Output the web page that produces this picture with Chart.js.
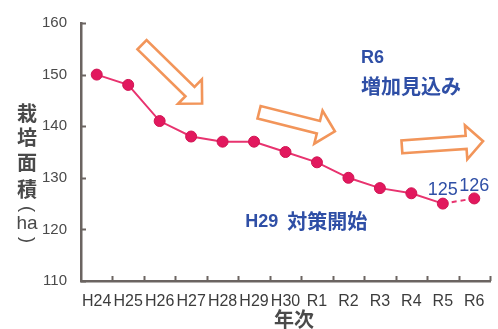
<!DOCTYPE html>
<html lang="ja">
<head>
<meta charset="utf-8">
<script src="https://cdn.jsdelivr.net/npm/chart.js@4.4.1/dist/chart.umd.min.js"></script>
<style>
  html, body { margin: 0; padding: 0; background: #ffffff; }
  #wrap { width: 498px; height: 329px; }
</style>
</head>
<body>
<div id="wrap"><canvas id="c" width="498" height="329"></canvas></div>
<script>
// 年次と栽培面積 (ha)
const years = ['H24', 'H25', 'H26', 'H27', 'H28', 'H29', 'H30', 'R1', 'R2', 'R3', 'R4', 'R5', 'R6'];
const area = [150, 148, 141, 138, 137, 137, 135, 133, 130, 128, 127, 125, 126];
const yTicks = [110, 120, 130, 140, 150, 160];
const labelledYears = ['R5', 'R6'];
const yTitleChars = ['栽', '培', '面', '積', '(', 'ha', ')'];
const xTitle = '年次';

// 傾向を示す矢印: [始点(年次位置, 面積), 終点(年次位置, 面積)]
const trendArrows = [
  [[1.44, 155.8], [3.35, 144.4]],
  [[5.16, 142.7], [7.57, 139.0]],
  [[9.70, 136.0], [12.28, 137.1]]
];

const BLUE = '#2f4fa6';
const PINK = '#e2185e';
const AXIS = '#6b6461';
const GREY_TEXT = '#4a4a4a';
const CJK = '"Noto Sans CJK JP", sans-serif';
const LATIN = '"Liberation Sans", Arial, sans-serif';

function drawArrow(ctx, t, p) {
  const dx = p.x - t.x, dy = p.y - t.y;
  const len = Math.hypot(dx, dy);
  const ux = dx / len, uy = dy / len;
  const nx = -uy, ny = ux;
  const shaft = 6.5, head = 17, headLen = 17;
  const hx = p.x - ux * headLen, hy = p.y - uy * headLen;
  const pts = [
    [t.x + nx * shaft, t.y + ny * shaft],
    [hx + nx * shaft, hy + ny * shaft],
    [hx + nx * head, hy + ny * head],
    [p.x, p.y],
    [hx - nx * head, hy - ny * head],
    [hx - nx * shaft, hy - ny * shaft],
    [t.x - nx * shaft, t.y - ny * shaft]
  ];
  ctx.beginPath();
  ctx.moveTo(pts[0][0], pts[0][1]);
  for (let i = 1; i < pts.length; i++) ctx.lineTo(pts[i][0], pts[i][1]);
  ctx.closePath();
  ctx.fillStyle = '#ffffff';
  ctx.fill();
  ctx.lineWidth = 2.6;
  ctx.strokeStyle = '#f2955a';
  ctx.lineJoin = 'miter';
  ctx.stroke();
}

const decorations = {
  id: 'decorations',
  beforeDatasetsDraw(chart) {
    const ctx = chart.ctx;
    const xs = chart.scales.x, ys = chart.scales.y;
    const area = chart.chartArea;
    ctx.save();
    // 矢印
    trendArrows.forEach(([a, b]) => {
      drawArrow(ctx,
        { x: xs.getPixelForValue(a[0]), y: ys.getPixelForValue(a[1]) },
        { x: xs.getPixelForValue(b[0]), y: ys.getPixelForValue(b[1]) });
    });
    // 内向きの目盛り
    ctx.strokeStyle = AXIS;
    ctx.lineWidth = 2;
    yTicks.forEach(v => {
      const y = Math.round(ys.getPixelForValue(v)) + 0.5;
      ctx.beginPath();
      ctx.moveTo(area.left, y);
      ctx.lineTo(area.left + 5, y);
      ctx.stroke();
    });
    const step = (area.right - area.left) / years.length;
    for (let i = 1; i <= years.length; i++) {
      const x = Math.round(area.left + i * step) + 0.5;
      ctx.beginPath();
      ctx.moveTo(x, area.bottom);
      ctx.lineTo(x, area.bottom - 5);
      ctx.stroke();
    }
    ctx.restore();
  },
  afterDatasetsDraw(chart) {
    const ctx = chart.ctx;
    const xs = chart.scales.x, ys = chart.scales.y;
    ctx.save();
    ctx.fillStyle = BLUE;

    // 数値ラベル
    ctx.font = '18px ' + LATIN;
    ctx.textAlign = 'center';
    ctx.textBaseline = 'alphabetic';
    labelledYears.forEach(yr => {
      const i = years.indexOf(yr);
      const x = xs.getPixelForValue(i);
      const y = ys.getPixelForValue(area[i]);
      ctx.fillText(String(area[i]), x, y - 9 + (yr === 'R6' ? 2 : 0));
    });

    // 注記
    ctx.textAlign = 'left';
    ctx.textBaseline = 'middle';
    ctx.font = 'bold 18px ' + LATIN;
    ctx.fillText('R6', xs.getPixelForValue(8.4), ys.getPixelForValue(153.2));
    ctx.font = 'bold 20px ' + CJK;
    ctx.fillText('増加見込み', xs.getPixelForValue(8.4), ys.getPixelForValue(147.8));

    const hx = xs.getPixelForValue(4.72), hy = ys.getPixelForValue(121.5);
    ctx.font = 'bold 18px ' + LATIN;
    ctx.fillText('H29', hx, hy);
    const w = ctx.measureText('H29 ').width + 4;
    ctx.font = 'bold 20px ' + CJK;
    ctx.fillText('対策開始', hx + w, hy);

    // 軸タイトル
    ctx.fillStyle = GREY_TEXT;
    ctx.textAlign = 'center';
    const tx = 27;
    const tys = [113, 137, 162, 189, 209, 224, 240];
    yTitleChars.forEach((ch, k) => {
      const y = tys[k];
      if (ch === '(' || ch === ')') {
        ctx.save();
        ctx.translate(tx, y);
        ctx.rotate(Math.PI / 2);
        ctx.font = '18px ' + LATIN;
        ctx.fillText(ch, 0, 0);
        ctx.restore();
      } else if (ch === 'ha') {
        ctx.font = '19px ' + LATIN;
        ctx.fillText(ch, tx, y);
      } else {
        ctx.font = 'bold 20px ' + CJK;
        ctx.fillText(ch, tx, y);
      }
    });
    ctx.font = 'bold 20px ' + CJK;
    ctx.fillText(xTitle, 294, 319);
    ctx.restore();
  }
};

new Chart(document.getElementById('c'), {
  type: 'line',
  data: {
    labels: years,
    datasets: [{
      data: area,
      borderColor: '#e8336f',
      borderWidth: 2,
      pointRadius: 5.5,
      pointBackgroundColor: PINK,
      pointBorderColor: '#d01452',
      pointBorderWidth: 1,
      tension: 0,
      segment: {
        borderDash: c => (c.p1DataIndex === years.length - 1 ? [5, 4] : undefined)
      }
    }]
  },
  options: {
    responsive: false,
    animation: false,
    layout: { padding: { top: 21, right: 8, left: 0, bottom: 0 } },
    plugins: { legend: { display: false }, tooltip: { enabled: false } },
    scales: {
      x: {
        offset: true,
        grid: { display: true, offset: true, drawOnChartArea: false, drawTicks: false, color: 'rgba(0,0,0,0)' },
        border: { display: true, color: AXIS, width: 2.5 },
        ticks: { color: '#3c3c3c', font: { family: LATIN, size: 16 }, padding: 11, maxRotation: 0, autoSkip: false },
        afterFit(scale) { scale.height = 48; }
      },
      y: {
        min: 110,
        max: 160,
        afterBuildTicks(scale) { scale.ticks = yTicks.map(v => ({ value: v })); },
        grid: { display: true, drawOnChartArea: false, drawTicks: false, color: 'rgba(0,0,0,0)' },
        border: { display: true, color: AXIS, width: 2.5 },
        ticks: { color: '#4a4a4a', font: { family: LATIN, size: 15 }, padding: 14 },
        afterFit(scale) { scale.width = 81; }
      }
    }
  },
  plugins: [decorations]
});
</script>
</body>
</html>
